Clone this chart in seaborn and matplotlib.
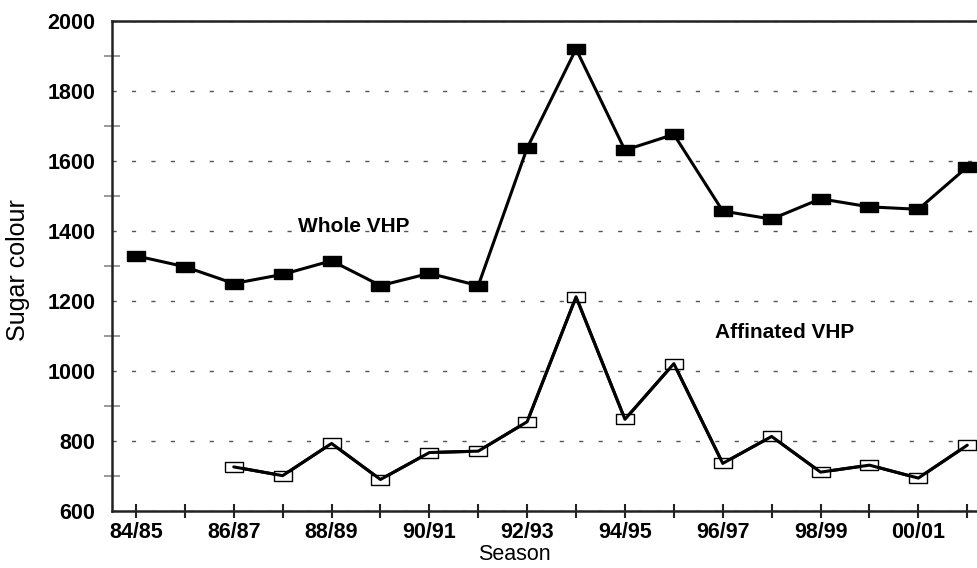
import matplotlib
matplotlib.use("Agg")
import matplotlib.pyplot as plt
import seaborn as sns
import pandas as pd
import numpy as np
from matplotlib.ticker import MultipleLocator, FixedLocator

seasons = ["84/85", "85/86", "86/87", "87/88", "88/89", "89/90", "90/91", "91/92",
           "92/93", "93/94", "94/95", "95/96", "96/97", "97/98", "98/99", "99/00",
           "00/01", "01/02"]
whole_vhp = [1329, 1298, 1250, 1276, 1315, 1244, 1279, 1244, 1637, 1920, 1631, 1676,
             1457, 1434, 1492, 1469, 1462, 1583]
affinated_vhp = [None, None, 726, 701, 793, 690, 767, 771, 855, 1212, 862, 1021,
                 736, 813, 711, 731, 694, 788]
tick_labels_shown = ["84/85", "86/87", "88/89", "90/91", "92/93", "94/95", "96/97",
                     "98/99", "00/01"]

df = pd.DataFrame({
    "idx": list(range(len(seasons))) * 2,
    "value": whole_vhp + affinated_vhp,
    "series": ["Whole VHP"] * len(seasons) + ["Affinated VHP"] * len(seasons),
})
df["value"] = pd.to_numeric(df["value"])

sns.set_theme(style="white")
plt.rcParams['font.family'] = ['Liberation Sans', 'DejaVu Sans']
plt.rcParams['text.color'] = 'black'
plt.rcParams['axes.labelcolor'] = 'black'
plt.rcParams['xtick.color'] = 'black'
plt.rcParams['ytick.color'] = 'black'

fig = plt.figure(figsize=(9.78, 5.68), dpi=100)
L, B, W, H = 112 / 978, 1 - 511 / 568, 1 - 112 / 978, 490 / 568
ax = fig.add_axes([L, B, W, H])

rect = [(-1.75, -1), (1.75, -1), (1.75, 1), (-1.75, 1), (-1.75, -1)]

w = df[df.series == "Whole VHP"]
a = df[(df.series == "Affinated VHP")].dropna()
sns.lineplot(data=w, x="idx", y="value", ax=ax, color="black", linewidth=2.2,
             marker=rect, markersize=13, markerfacecolor="black",
             markeredgecolor="black", markeredgewidth=1, legend=False, zorder=3)
sns.lineplot(data=a, x="idx", y="value", ax=ax, color="black", linewidth=2.2,
             marker=rect, markersize=13, markerfacecolor="white",
             markeredgecolor="black", markeredgewidth=1, legend=False, zorder=3)
# line drawn over open markers
ax.plot(a["idx"], a["value"], color="black", linewidth=2.2, zorder=4)

ax.set_xlim(-0.49, 17.22)
ax.set_ylim(600, 2000)

ax.yaxis.set_major_locator(MultipleLocator(200))
ax.yaxis.set_minor_locator(MultipleLocator(100))
ax.xaxis.set_major_locator(FixedLocator(list(range(0, len(seasons), 2))))
ax.xaxis.set_minor_locator(FixedLocator(list(range(1, len(seasons), 2))))
ax.set_xticklabels(tick_labels_shown)

ax.tick_params(axis="y", which="major", direction="inout", length=18, width=1.5,
               color="#222222", labelcolor="black", labelsize=15.5, pad=3)
ax.tick_params(axis="y", which="minor", direction="inout", length=11.5, width=1.2,
               color="#888888", left=True)
ax.tick_params(axis="x", which="both", direction="inout", length=10, width=1.5,
               color="#222222", labelcolor="black", bottom=True, labelsize=15.5, pad=3)
for lbl in ax.get_yticklabels() + ax.get_xticklabels():
    lbl.set_fontweight("bold")

ax.grid(axis="y", which="major", linestyle=(0, (3, 11)), color="#555555", linewidth=1)
ax.set_axisbelow(True)

for side in ["left", "bottom", "top"]:
    ax.spines[side].set_color("#222222")
    ax.spines[side].set_linewidth(1.8)
ax.spines["right"].set_visible(False)

ax.set_xlabel("Season", fontsize=15.5, color="black")
ax.set_ylabel("Sugar colour", fontsize=18, color="black")
ax.xaxis.label.set_va("center")
ax.yaxis.label.set_va("center")
ax.xaxis.set_label_coords((514 - 112) / 866, (511 - 555) / 490)
ax.yaxis.set_label_coords((18 - 112) / 866, (511 - 270) / 490)

fig.text(354 / 978, 1 - 226 / 568, "Whole VHP", fontsize=15,
         fontweight="bold", ha="center", va="center", color="black")
fig.text(785 / 978, 1 - 332 / 568, "Affinated VHP", fontsize=15,
         fontweight="bold", ha="center", va="center", color="black")

fig.savefig("out.png", dpi=100)
